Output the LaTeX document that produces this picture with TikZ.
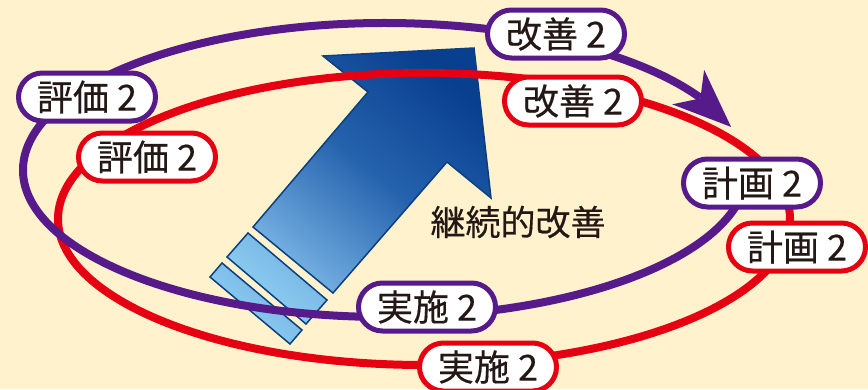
\documentclass[tikz,border=0pt]{standalone}
\usepackage{fontspec}
\setmainfont[FakeBold=0.4]{Noto Sans CJK JP}
\usetikzlibrary{arrows.meta,bending}
\definecolor{bg}{HTML}{FFF2CC}
\definecolor{cyclepurple}{HTML}{561A8A}
\definecolor{cyclered}{HTML}{E50012}
\definecolor{ink}{HTML}{231815}
\definecolor{arrowdark}{HTML}{083F8F}
\definecolor{arrowmid}{HTML}{2562AD}
\definecolor{arrowlight}{HTML}{72AEE0}
\definecolor{stripelight}{HTML}{95D6F6}
\definecolor{stripedark}{HTML}{70AEDF}
\definecolor{edgeblue}{HTML}{0B3F80}

\begin{document}
\begin{tikzpicture}[x=1pt,y=-1pt,
  pill/.style={draw, line width=5pt, fill=white, rounded corners=24pt,
    minimum width=137pt, minimum height=48pt, inner sep=0pt, text=ink,
    font=\fontsize{36}{36}\selectfont},
  pillP/.style={pill, draw=cyclepurple},
  pillR/.style={pill, draw=cyclered},
  loopline/.style={line width=8pt},
  bluepart/.style={draw=edgeblue, line width=1.5pt, line join=miter}
]
\fill[bg] (0,0) rectangle (868,389);
\useasboundingbox (0,0) rectangle (868,389);

% big arrow with two bands at its tail
\path[bluepart, top color=arrowdark, bottom color=arrowlight, middle color=arrowmid, shading angle=-40]
  (474,48) -- (491,198) -- (447,162) -- (333,293) -- (253,227) -- (368,92) -- (323,56) -- cycle;
\path[bluepart, top color=stripedark, bottom color=stripelight, shading angle=-40]
  (248,233) -- (327,300) -- (306,324) -- (227,257) -- cycle;
\path[bluepart, top color=stripedark, bottom color=stripelight, shading angle=-40]
  (222,263) -- (302,330) -- (290,344) -- (210,277) -- cycle;

% the two cycles
\coordinate (rc) at (424,219);
\draw[loopline, cyclered] (rc) ellipse[x radius=366, y radius=146];
\coordinate (pc) at (385,170);
\draw[loopline, cyclepurple, -{Stealth[length=58pt,width=46pt,inset=16pt,flex]}]
  (pc) ++(5:362 and 147) arc[start angle=5, end angle=343, x radius=362, y radius=147];

% stage labels
\node[pillP] (evalP)   at (87,97)   {評価 2};
\node[pillR] (evalR)   at (147,157) {評価 2};
\node[pillP] (kaizenP) at (556,34)  {改善 2};
\node[pillR] (kaizenR) at (573,101) {改善 2};
\node[pillP] (planP)   at (752,183) {計画 2};
\node[pillR] (planR)   at (797,247) {計画 2};
\node[pillP] (doP)     at (427,307) {実施 2};
\node[pillR] (doR)     at (488,367) {実施 2};

\node[text=ink, font=\fontsize{35}{35}\selectfont] (title) at (518,222) {継続的改善};
\end{tikzpicture}
\end{document}
